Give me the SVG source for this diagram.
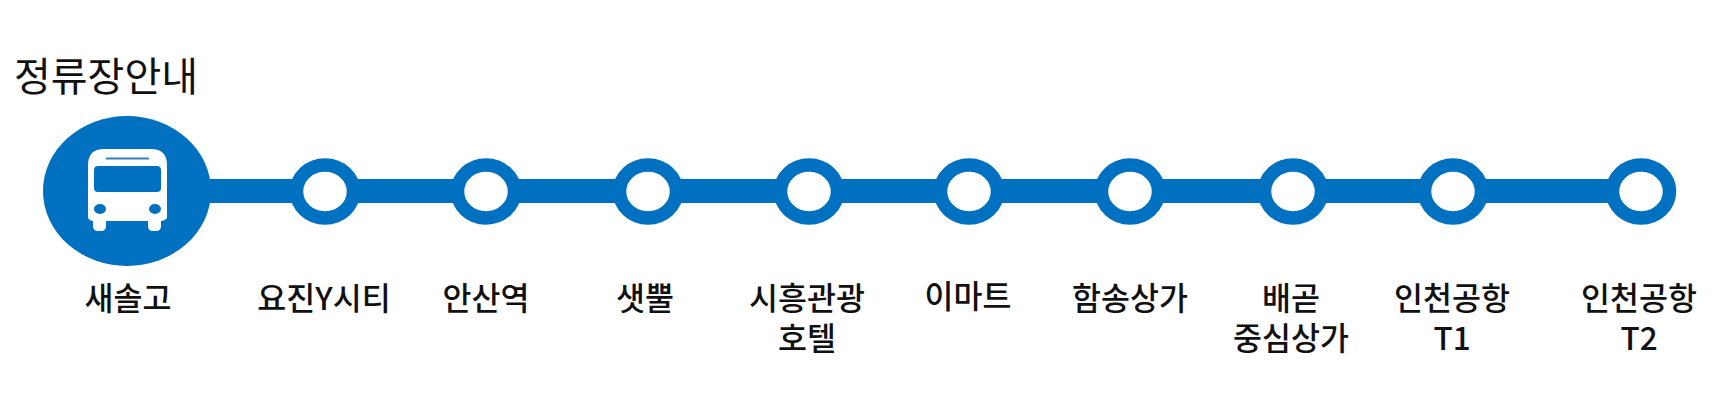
<svg xmlns="http://www.w3.org/2000/svg" width="1716" height="409" viewBox="0 0 1716 409">
<style>
text{font-family:"Noto Sans CJK KR","Noto Sans",sans-serif;fill:#111;text-anchor:middle}
.l{font-size:31.500px;font-weight:500}
.t{font-size:40px;font-weight:400;text-anchor:start}
.r{fill:#fff;stroke:#0070c0;stroke-width:13.500}
.h{fill:#fff}
.b{fill:#0070c0}
</style>
<rect width="1716" height="409" fill="#fff"/>
<text class="t" x="14" y="91">정류장안내</text>
<g id="connectors"><rect class="b" x="127" y="179" width="1514" height="24"/></g>
<g id="stop-1"><ellipse class="b" cx="127" cy="191" rx="84" ry="75"/>
<path class="h" d="M104 149H151Q167 149 167 165V217Q167 220 161 221V226Q161 231 156 231H153Q148 231 148 226V221H106V226Q106 231 101 231H98Q93 231 93 226V221Q88 220 88 217V165Q88 149 104 149Z"/>
<rect class="b" x="94" y="166" width="67" height="26" rx="4"/>
<rect x="106" y="157.500" width="43" height="2" fill="#2f80c4"/>
<ellipse class="b" cx="100" cy="209" rx="6" ry="5"/><ellipse class="b" cx="155" cy="209" rx="6" ry="5"/>
<text class="l" x="128" y="310">새솔고</text></g>
<g id="stop-2"><ellipse class="r" cx="325" cy="191.500" rx="28.500" ry="26.500"/><text class="l" x="324" y="310">요진Y시티</text></g>
<g id="stop-3"><ellipse class="r" cx="486" cy="191.500" rx="28.500" ry="26.500"/><text class="l" x="486" y="310">안산역</text></g>
<g id="stop-4"><ellipse class="r" cx="648" cy="191.500" rx="28.500" ry="26.500"/><text class="l" x="645" y="310">샛뿔</text></g>
<g id="stop-5"><ellipse class="r" cx="809" cy="191.500" rx="28.500" ry="26.500"/><text class="l" x="807" y="310">시흥관광</text><text class="l" x="807" y="350">호텔</text></g>
<g id="stop-6"><ellipse class="r" cx="969" cy="191.500" rx="28.500" ry="26.500"/><text class="l" x="968" y="308">이마트</text></g>
<g id="stop-7"><ellipse class="r" cx="1130" cy="191.500" rx="28.500" ry="26.500"/><text class="l" x="1130" y="310">함송상가</text></g>
<g id="stop-8"><ellipse class="r" cx="1293" cy="191.500" rx="28.500" ry="26.500"/><text class="l" x="1291" y="310">배곧</text><text class="l" x="1291" y="350">중심상가</text></g>
<g id="stop-9"><ellipse class="r" cx="1453" cy="191.500" rx="28.500" ry="26.500"/><text class="l" x="1452" y="310">인천공항</text><text class="l" x="1452" y="350">T1</text></g>
<g id="stop-10"><ellipse class="r" cx="1641" cy="191.500" rx="28.500" ry="26.500"/><text class="l" x="1639" y="310">인천공항</text><text class="l" x="1639" y="350">T2</text></g>
</svg>
